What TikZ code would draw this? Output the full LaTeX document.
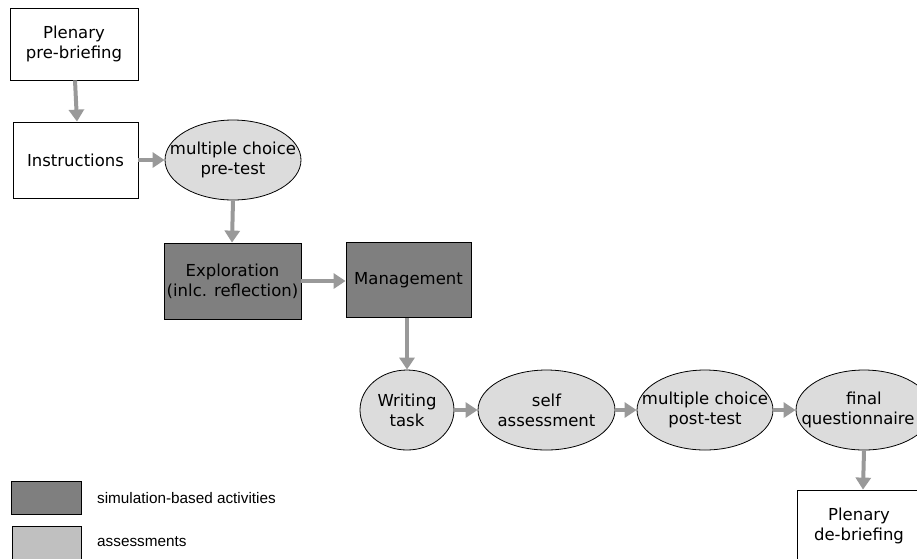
\documentclass[tikz,border=0pt]{standalone}
\usepackage{fontspec}
\setmainfont{DejaVu Sans}
\newfontfamily\legendfont{Liberation Sans}
\usetikzlibrary{shapes.geometric,arrows.meta}
\definecolor{simfill}{HTML}{7F7F7F}
\definecolor{assfill}{HTML}{DCDCDC}
\definecolor{legass}{HTML}{C0C0C0}
\definecolor{arrowgray}{HTML}{999999}
\tikzset{
  plainbox/.style={draw=black, line width=0.8pt, rectangle, fill=white, align=center, inner sep=0pt,
    font=\fontsize{16.5}{20}\selectfont},
  simbox/.style={plainbox, fill=simfill},
  assell/.style={draw=black, line width=0.8pt, ellipse, fill=assfill, align=center,
    inner xsep=-30pt, inner ysep=-10pt,
    font=\fontsize{16.5}{20}\selectfont},
  flow/.style={draw=arrowgray, line width=4pt, -{Triangle[length=12pt,width=15pt]}},
  legbox/.style={draw=black, line width=0.8pt, rectangle, inner sep=0pt},
  legtext/.style={anchor=west, inner sep=0pt, font=\legendfont\fontsize{15.3}{17}\selectfont}
}
\begin{document}
\begin{tikzpicture}[x=1pt,y=-1pt]
\useasboundingbox (0,0) rectangle (917,558);
\clip (0,0) rectangle (917,558);
% nodes
\node[plainbox, minimum width=128pt, minimum height=72pt] (pre) at (74,44) {Plenary\\pre-briefing};
\node[plainbox, minimum width=125pt, minimum height=76pt] (instr) at (75.5,160) {Instructions};
\node[assell, minimum width=136pt, minimum height=80pt] (mcpre) at (233,160) {multiple choice\\pre-test};
\node[simbox, minimum width=137pt, minimum height=76pt] (expl) at (232.5,281) {Exploration\\(inlc. reflection)};
\node[simbox, minimum width=125pt, minimum height=75pt] (mgmt) at (408.5,280) {Management};
\node[assell, minimum width=94pt, minimum height=80pt] (write) at (407,410) {Writing\\task};
\node[assell, minimum width=137pt, minimum height=80pt] (self) at (546.5,410) {self\\assessment};
\node[assell, minimum width=136pt, minimum height=80pt] (mcpost) at (705,410) {multiple choice\\post-test};
\node[assell, minimum width=136pt, minimum height=80pt] (final) at (864,410) {final\\questionnaire\hspace*{12pt}};
\node[plainbox, minimum width=124pt, minimum height=72pt] (post) at (859,526) {Plenary\\de-briefing};
% connectors
\draw[flow] ([xshift=1pt]pre.south) -- ([xshift=1.5pt]instr.north);
\draw[flow] (instr.east) -- (mcpre.west);
\draw[flow] (mcpre.south) -- ([xshift=-0.5pt]expl.north);
\draw[flow] (expl.east) -- ([yshift=-1pt]mgmt.west);
\draw[flow] ([xshift=-1.5pt]mgmt.south) -- (write.north);
\draw[flow] (write.east) -- (self.west);
\draw[flow] (self.east) -- (mcpost.west);
\draw[flow] (mcpost.east) -- (final.west);
\draw[flow] (final.south) -- ([xshift=4pt]post.north);
% legend
\node[legbox, fill=simfill, minimum width=70pt, minimum height=33pt] (legsim) at (46,497.5) {};
\node[legbox, fill=legass, minimum width=69pt, minimum height=34pt] (legass) at (46.5,543) {};
\node[legtext] (legsimt) at (97,498) {simulation-based activities};
\node[legtext] (legasst) at (97,542) {assessments};
\end{tikzpicture}
\end{document}
